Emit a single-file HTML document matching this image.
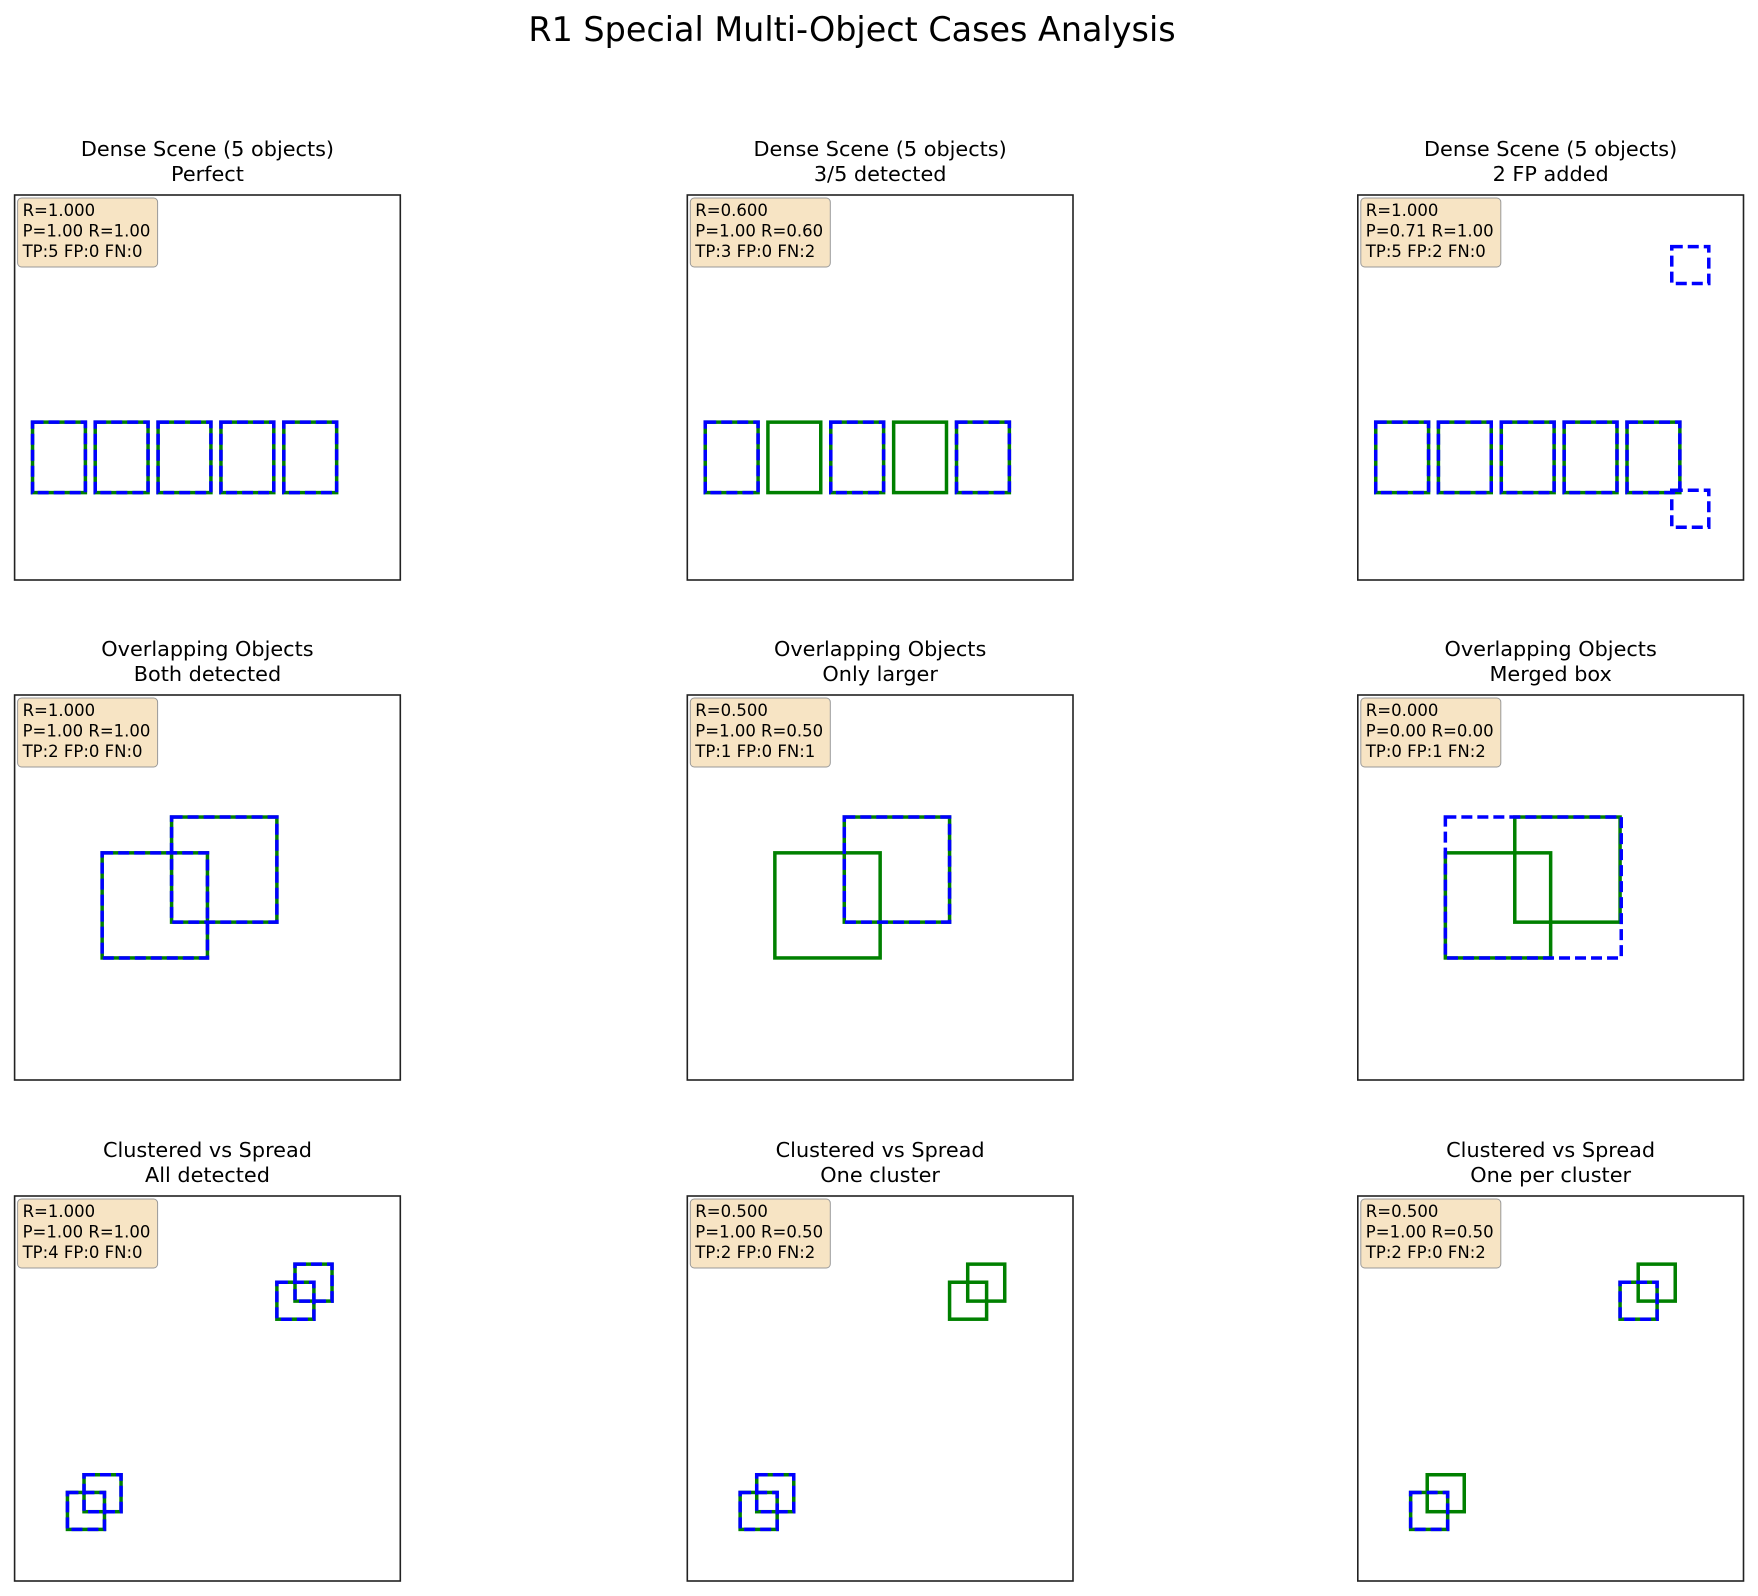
<!DOCTYPE html>
<html><head><meta charset="utf-8"><style>
body{margin:0;background:#fff}
svg{display:block;font-family:"Liberation Sans","DejaVu Sans",sans-serif}
</style></head><body>
<svg id="fig" width="1758" height="1596" viewBox="0 0 1758 1596" xmlns="http://www.w3.org/2000/svg">
<text x="852" y="41" font-size="33.4" text-anchor="middle" font-family="DejaVu Sans, sans-serif">R1 Special Multi-Object Cases Analysis</text>
</svg>
<script>
// panel metadata
const titles1 = ["Dense Scene (5 objects)","Dense Scene (5 objects)","Dense Scene (5 objects)","Overlapping Objects","Overlapping Objects","Overlapping Objects","Clustered vs Spread","Clustered vs Spread","Clustered vs Spread"];
const titles2 = ["Perfect","3/5 detected","2 FP added","Both detected","Only larger","Merged box","All detected","One cluster","One per cluster"];
const infoR = ["R=1.000","R=0.600","R=1.000","R=1.000","R=0.500","R=0.000","R=1.000","R=0.500","R=0.500"];
const infoPR = ["P=1.00 R=1.00","P=1.00 R=0.60","P=0.71 R=1.00","P=1.00 R=1.00","P=1.00 R=0.50","P=0.00 R=0.00","P=1.00 R=1.00","P=1.00 R=0.50","P=1.00 R=0.50"];
const infoCounts = ["TP:5 FP:0 FN:0","TP:3 FP:0 FN:2","TP:5 FP:2 FN:0","TP:2 FP:0 FN:0","TP:1 FP:0 FN:1","TP:0 FP:1 FN:2","TP:4 FP:0 FN:0","TP:2 FP:0 FN:2","TP:2 FP:0 FN:2"];
// boxes in data units (0..100, y down): [x, y, w, h]
const denseGT = [[4.65,59,13.7,18.3],[20.9,59,13.7,18.3],[37.2,59,13.7,18.3],[53.5,59,13.7,18.3],[69.8,59,13.7,18.3]];
const overlapGT = [[22.7,41,27.3,27.3],[40.7,31.7,27.3,27.3]];
const clusterGT = [[68,22.4,9.6,9.6],[72.7,17.7,9.6,9.6],[13.7,77,9.6,9.6],[18,72.4,9.6,9.6]];
const predDense1 = [[4.65,59,13.7,18.3],[20.9,59,13.7,18.3],[37.2,59,13.7,18.3],[53.5,59,13.7,18.3],[69.8,59,13.7,18.3]];
const predDense2 = [[4.65,59,13.7,18.3],[37.2,59,13.7,18.3],[69.8,59,13.7,18.3]];
const predDense3 = [[4.65,59,13.7,18.3],[20.9,59,13.7,18.3],[37.2,59,13.7,18.3],[53.5,59,13.7,18.3],[69.8,59,13.7,18.3],[81.4,13.4,9.6,9.6],[81.4,76.7,9.6,9.6]];
const predOver1 = [[22.7,41,27.3,27.3],[40.7,31.7,27.3,27.3]];
const predOver2 = [[40.7,31.7,27.3,27.3]];
const predOver3 = [[22.7,31.7,45.6,36.6]];
const predClus1 = [[68,22.4,9.6,9.6],[72.7,17.7,9.6,9.6],[13.7,77,9.6,9.6],[18,72.4,9.6,9.6]];
const predClus2 = [[13.7,77,9.6,9.6],[18,72.4,9.6,9.6]];
const predClus3 = [[68,22.4,9.6,9.6],[13.7,77,9.6,9.6]];

const gtSets = [denseGT,denseGT,denseGT,overlapGT,overlapGT,overlapGT,clusterGT,clusterGT,clusterGT];
const predSets = [predDense1,predDense2,predDense3,predOver1,predOver2,predOver3,predClus1,predClus2,predClus3];

const svg = document.getElementById('fig');
const NS = 'http://www.w3.org/2000/svg';
const colX = [14.6, 687.3, 1357.8], rowY = [195, 695, 1196], PW = 385.7, PH = 385;
function mk(tag, attrs, parent){const e=document.createElementNS(NS,tag);for(const k in attrs)e.setAttribute(k,attrs[k]);parent.appendChild(e);return e;}
for(let i=0;i<9;i++){
  const ox = colX[i%3], oy = rowY[Math.floor(i/3)];
  const sx = v => ox + v/100*PW, sy = v => oy + v/100*PH;
  const g = mk('g',{},svg);
  
  
  const t1 = mk('text',{x:ox+PW/2,y:oy-39,'font-size':20.8,'text-anchor':'middle','font-family':'DejaVu Sans, sans-serif'},g);
  t1.textContent = titles1[i];
  
  
  const t2 = mk('text',{x:ox+PW/2,y:oy-14,'font-size':20.8,'text-anchor':'middle','font-family':'DejaVu Sans, sans-serif'},g);
  t2.textContent = titles2[i];
  
  
  gtSets[i].forEach(b=>{
    const r = mk('rect',{x:sx(b[0]),y:sy(b[1]),width:b[2]/100*PW,height:b[3]/100*PH,fill:'none',stroke:'#008000','stroke-width':3.5},g);
    
    
  });
  predSets[i].forEach(b=>{
    const r = mk('rect',{x:sx(b[0]),y:sy(b[1]),width:b[2]/100*PW,height:b[3]/100*PH,fill:'none',stroke:'#0000ff','stroke-width':3.5,'stroke-dasharray':'11 5'},g);
    
    
  });
  const fr = mk('rect',{x:ox,y:oy,width:PW,height:PH,fill:'none',stroke:'#222','stroke-width':1.6},g);
  
  
  const ib = mk('rect',{x:ox+3,y:oy+3,width:140,height:69,rx:4,fill:'#f7e4c4',stroke:'#999','stroke-width':1},g);
  
  
  [infoR[i],infoPR[i],infoCounts[i]].forEach((s,k)=>{
    const tt = mk('text',{x:ox+8,y:oy+21+k*20.5,'font-size':16.5,'font-family':'DejaVu Sans, sans-serif'},g);
    tt.textContent = s;
    
    
  });
}
</script>
</body></html>
